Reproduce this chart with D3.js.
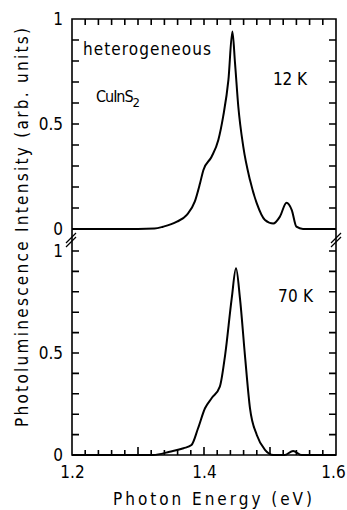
<!DOCTYPE html>
<html>
<head>
<meta charset="utf-8">
<script src="https://cdn.jsdelivr.net/npm/d3@7"></script>
<style>
  body { margin: 0; background: #fff; }
  text { font-family: "DejaVu Sans Condensed", "DejaVu Sans", sans-serif; fill: #000; }
</style>
</head>
<body>
<div id="chart"></div>
<script>
/*global d3*/

// 12 K spectrum (photon energy in eV, PL intensity in arb. units)
var energy12 = [1.20, 1.30, 1.325, 1.338, 1.359, 1.374, 1.386, 1.394, 1.399, 1.4115, 1.4217,
   1.429, 1.437, 1.443, 1.447, 1.452, 1.4595, 1.4697, 1.48, 1.4924, 1.505, 1.515, 1.525,
   1.533, 1.540, 1.55, 1.60];
var intensity12 = [0, 0, 0.002, 0.011, 0.035, 0.067, 0.13, 0.218, 0.28, 0.344, 0.424,
   0.535, 0.71, 0.94, 0.79, 0.582, 0.392, 0.233, 0.122, 0.043, 0.026, 0.059, 0.125,
   0.09, 0.011, 0, 0];

// 70 K spectrum
var energy70 = [1.20, 1.323, 1.348, 1.369, 1.381, 1.391, 1.4015, 1.4115, 1.424, 1.432,
   1.442, 1.4485, 1.4545, 1.462, 1.4697, 1.48, 1.4924, 1.505, 1.522, 1.535, 1.548, 1.60];
var intensity70 = [0, 0, 0.016, 0.033, 0.049, 0.131, 0.229, 0.278, 0.335, 0.49,
   0.768, 0.915, 0.768, 0.49, 0.229, 0.098, 0.025, 0, 0, 0.02, 0, 0];

var xTickLabels = [1.2, 1.4, 1.6];
var yTickLabels = [0, 0.5, 1];

var svg = d3.select("#chart").append("svg")
   .attr("width", 347)
   .attr("height", 510);

var x = d3.scaleLinear().domain([1.2, 1.6]).range([72, 336]);
var yTop = d3.scaleLinear().domain([0, 1]).range([229, 19]);
var yBot = d3.scaleLinear().domain([0, 1]).range([455, 251]);

var minorX = d3.range(0, 21).map(function (i) { return 1.2 + i * 0.02; });
var majorX = d3.range(0, 5).map(function (i) { return 1.2 + i * 0.1; });
var minorY = d3.range(0, 11).map(function (i) { return i / 10; });

// y tick labels
[yTop, yBot].forEach(function (y) {
   var lab = svg.append("g")
      .attr("transform", "translate(" + x(1.2) + ",0)")
      .call(d3.axisLeft(y).tickValues(yTickLabels).tickSize(0).tickPadding(9)
         .tickFormat(function (d) { return d === 0.5 ? "0.5" : d; }));
   lab.select(".domain").remove();
   lab.selectAll("text").style("font-size", "17px");
});

// x tick labels
var xl = svg.append("g")
   .attr("transform", "translate(0," + yBot(0) + ")")
   .call(d3.axisBottom(x).tickValues(xTickLabels).tickSize(0).tickPadding(11)
      .tickFormat(d3.format(".1f")));
xl.select(".domain").remove();
xl.selectAll("text").style("font-size", "17px")
   .attr("dx", function (d) { return d === 1.6 ? -3 : 0; });

// frame + inward ticks, all in one path
var path = d3.path();
path.moveTo(x(1.2), yBot(0));
path.lineTo(x(1.2), yTop(1));
path.lineTo(x(1.6), yTop(1));
path.lineTo(x(1.6), yBot(0));
path.closePath();
minorX.forEach(function (d) {
   path.moveTo(x(d), yTop(1)); path.lineTo(x(d), yTop(1) + 6);
   path.moveTo(x(d), yBot(0)); path.lineTo(x(d), yBot(0) - 5);
});
majorX.forEach(function (d) {
   path.moveTo(x(d), yBot(0)); path.lineTo(x(d), yBot(0) - 8);
});
[yTop, yBot].forEach(function (y) {
   minorY.forEach(function (d) {
      path.moveTo(x(1.2), y(d)); path.lineTo(x(1.2) + 7, y(d));
      path.moveTo(x(1.6), y(d)); path.lineTo(x(1.6) - 7, y(d));
   });
});
var frame = svg.append("g").attr("stroke", "#000").attr("fill", "none");
frame.append("path")
   .attr("d", path.toString())
   .attr("stroke-width", 1.6);

// axis break marks
[x(1.2) - 1, x(1.6)].forEach(function (bx) {
   var by = (yTop(0) + yBot(1)) / 2;
   [-2, 2].forEach(function (off) {
      frame.append("line")
         .attr("x1", bx - 5).attr("y1", by + off + 5)
         .attr("x2", bx + 5).attr("y2", by + off - 5)
         .attr("stroke-width", 1.3);
   });
});

// spectra
function drawCurve(energy, intensity, y) {
   var pts = energy.map(function (e, i) { return [e, intensity[i]]; });
   svg.append("path")
      .datum(pts)
      .attr("fill", "none")
      .attr("stroke", "#000")
      .attr("stroke-width", 2)
      .attr("stroke-linejoin", "round")
      .attr("d", d3.line()
         .x(function (d) { return x(d[0]); })
         .y(function (d) { return y(d[1]); })
         .curve(d3.curveMonotoneX));
}
drawCurve(energy12, intensity12, yTop);
drawCurve(energy70, intensity70, yBot);

// annotations
function label(txt, tx, ty, size, len) {
   var t = svg.append("text")
      .attr("x", tx).attr("y", ty)
      .style("font-size", size + "px")
      .text(txt);
   if (len) {
      t.attr("textLength", len).attr("lengthAdjust", "spacing");
   }
   return t;
}
label("heterogeneous", 83, 55, 17, 128);
var cu = label("CuInS", 96, 102, 16, 44);
cu.append("tspan").attr("dy", 5).style("font-size", "13px").text("2");
label("12 K", 273, 85, 17, 34);
label("70 K", 278, 302, 17, 35);

svg.append("text")
   .attr("x", 113).attr("y", 505)
   .attr("textLength", 199)
   .attr("lengthAdjust", "spacing")
   .style("font-size", "17px")
   .text("Photon Energy    (eV)");

svg.append("text")
   .attr("transform", "translate(28,427) rotate(-90)")
   .attr("textLength", 399)
   .attr("lengthAdjust", "spacing")
   .style("font-size", "17px")
   .text("Photoluminescence Intensity   (arb. units)");
</script>
</body>
</html>
